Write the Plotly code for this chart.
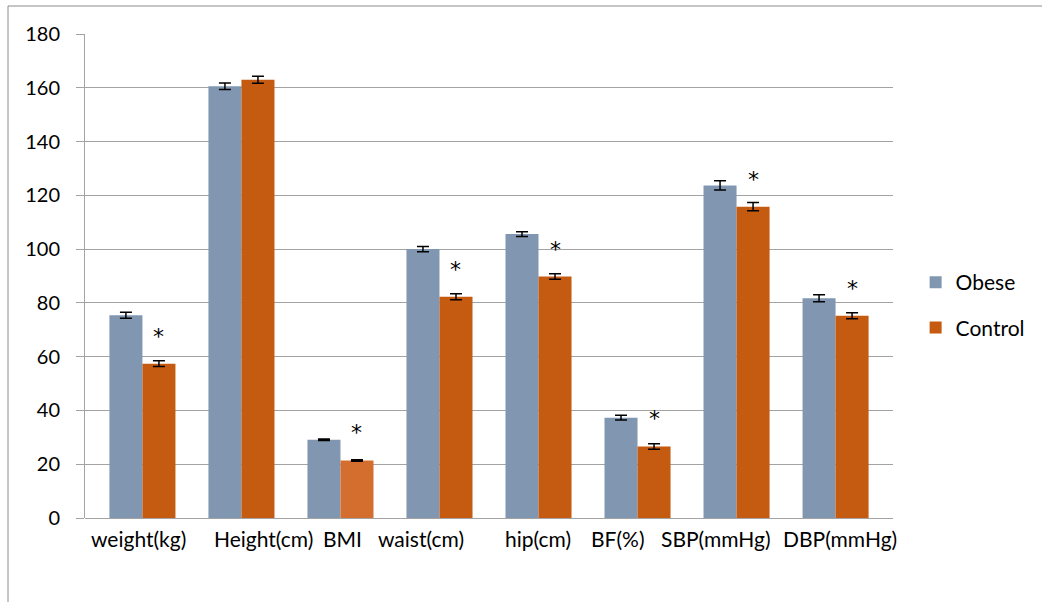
import plotly.graph_objects as go

categories = ["weight(kg)", "Height(cm)", "BMI", "waist(cm)", "hip(cm)", "BF(%)", "SBP(mmHg)", "DBP(mmHg)"]
obese = [75.4, 160.6, 29.1, 100.0, 105.6, 37.3, 123.7, 81.7]
obese_err = [1.1, 1.2, 0.3, 1.0, 0.9, 0.9, 1.7, 1.3]
control = [57.4, 163.0, 21.4, 82.3, 89.8, 26.6, 115.8, 75.2]
control_err = [1.1, 1.3, 0.3, 1.1, 1.0, 1.0, 1.5, 1.1]
significant = [True, False, True, True, True, True, True, True]
y_ticks = [0, 20, 40, 60, 80, 100, 120, 140, 160, 180]

# horizontal nudges (px) of category labels, as laid out in the original
label_nudge = [-4, 22, 2, -18, -1, -20, -21, 4]

BLUE = "#8197B1"
ORANGE = "#C55A11"
ORANGE_LIGHT = "#D46E2F"
GRID = "#A3A3A3"
FONT = "Lato"

control_colors = [ORANGE] * len(categories)
control_colors[categories.index("BMI")] = ORANGE_LIGHT

fig = go.Figure()
fig.add_trace(go.Bar(
    name="Obese", x=categories, y=obese, marker_color=BLUE, marker_line_width=0,
    error_y=dict(type="data", array=obese_err, color="black", thickness=1.5, width=6),
    legendgroup="a",
))
fig.add_trace(go.Bar(
    name="Control", x=categories, y=control, marker_color=control_colors, marker_line_width=0,
    error_y=dict(type="data", array=control_err, color="black", thickness=1.5, width=6),
    legendgroup="b",
))

for cat, val, sig in zip(categories, control, significant):
    if sig:
        fig.add_annotation(x=cat, y=val, text="*", showarrow=False, xshift=16.5,
                           yanchor="bottom", yshift=13,
                           font=dict(family="DejaVu Sans", size=22, color="black"))

for cat, nudge in zip(categories, label_nudge):
    fig.add_annotation(x=cat, y=0, yref="paper", text=cat, showarrow=False,
                       xshift=nudge, yanchor="top", yshift=-6,
                       font=dict(family=FONT, size=21, color="black"))

# outer chart frame (extends past the right and bottom edges)
fig.add_shape(type="rect", xref="paper", yref="paper",
              x0=(8 - 85) / 808, x1=(1060 - 85) / 808,
              y0=(518 - 620) / 484, y1=(518 - 6) / 484,
              line=dict(color="#8C8C8C", width=1), fillcolor="rgba(0,0,0,0)", layer="below")

fig.update_layout(
    width=1042, height=602,
    margin=dict(l=85, r=149, t=34, b=84, autoexpand=False),
    paper_bgcolor="white", plot_bgcolor="white",
    barmode="group", bargap=0.333, bargroupgap=0,
    font=dict(family=FONT, size=20, color="black"),
    showlegend=True,
    legend=dict(x=1.028, xanchor="left", y=0.44, yanchor="middle",
                font=dict(family=FONT, size=21, color="black"),
                traceorder="grouped", tracegroupgap=15, itemclick=False,
                bgcolor="rgba(0,0,0,0)"),
    xaxis=dict(type="category", range=[-0.58, 7.58], showgrid=False, automargin=False,
               showline=False, ticks="", showticklabels=False),
    yaxis=dict(range=[0, 180], tickvals=y_ticks, showgrid=True, gridcolor=GRID, gridwidth=1,
               automargin=False,
               showline=True, linecolor=GRID, linewidth=1, zeroline=True,
               zerolinecolor=GRID, zerolinewidth=1,
               ticks="outside", ticklen=8, tickcolor=GRID, ticklabelstandoff=12,
               tickfont=dict(family=FONT, size=20, color="black")),
)

fig.write_html("out.html", config={"displayModeBar": False},
               post_script="document.body.style.margin='0';document.body.style.padding='0';")
